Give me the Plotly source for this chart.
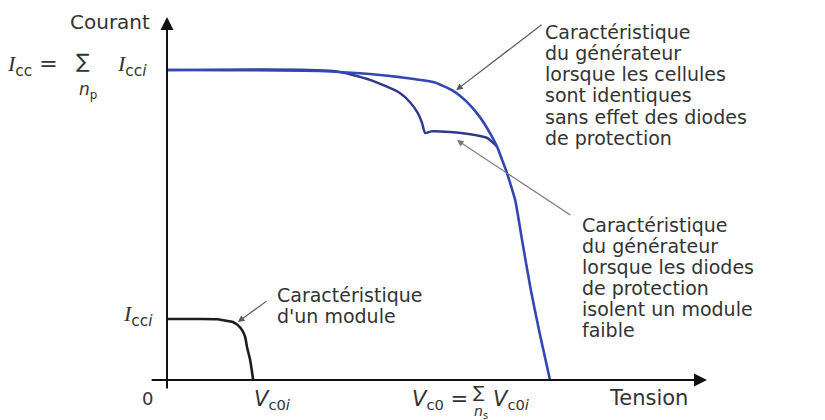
import plotly.graph_objects as go

# ── Colours ──────────────────────────────────────────────────────────────────
AXIS = "#111111"
TEXT = "#333333"
BLUE = "#3346b4"
NAVY = "#2d3a8c"
MODULE = "#1c1c1c"
POINTER = "#5a5a5a"
FONT = "DejaVu Sans, Arial, sans-serif"

# ── Data: tension in units of Vc0, courant in units of Icc ───────────────────
# generator, identical cells (no diode effect)
v_gen = [0, 0.399, 0.530, 0.608, 0.695, 0.744, 0.783, 0.817, 0.843, 0.862,
         0.875, 0.885, 0.896, 0.909, 0.927, 0.950, 0.974, 1.0]
i_gen = [1.0, 0.997, 0.987, 0.977, 0.961, 0.935, 0.897, 0.848, 0.797, 0.752,
         0.710, 0.677, 0.635, 0.581, 0.452, 0.290, 0.145, 0.0]

# generator, protection diodes isolating a weak module
v_diode = [0, 0.433, 0.530, 0.608, 0.634, 0.655, 0.666, 0.674, 0.690, 0.739,
           0.773, 0.809, 0.836, 0.849, 0.862]
i_diode = [1.0, 0.997, 0.968, 0.926, 0.897, 0.861, 0.829, 0.797, 0.802, 0.800,
           0.796, 0.789, 0.781, 0.768, 0.752]

# a single module
v_mod = [0, 0.086, 0.131, 0.151, 0.172, 0.185, 0.196, 0.204, 0.209, 0.217, 0.225]
i_mod = [0.197, 0.197, 0.196, 0.192, 0.187, 0.177, 0.161, 0.139, 0.106, 0.065, 0.0]

I_CCI = 0.197
V_C0I = 0.225

text_identical = ["Caractéristique", "du générateur", "lorsque les cellules",
                  "sont identiques", "sans effet des diodes", "de protection"]
text_diodes = ["Caractéristique", "du générateur", "lorsque les diodes",
               "de protection", "isolent un module", "faible"]
text_module = ["Caractéristique", "d'un module"]

# ── Curves ───────────────────────────────────────────────────────────────────
fig = go.Figure()

fig.add_trace(go.Scatter(
    x=v_diode, y=i_diode, mode="lines",
    line=dict(color=NAVY, width=2.4, shape="spline", smoothing=0.6),
    hoverinfo="skip",
))
fig.add_trace(go.Scatter(
    x=v_gen, y=i_gen, mode="lines",
    line=dict(color=BLUE, width=2.6, shape="spline", smoothing=0.6),
    hoverinfo="skip",
))
fig.add_trace(go.Scatter(
    x=v_mod, y=i_mod, mode="lines",
    line=dict(color=MODULE, width=2.6, shape="spline", smoothing=0.6),
    hoverinfo="skip",
))


def label(text, x, y, xanchor="center", size=18):
    return dict(
        text=text, x=x, y=y, xref="x", yref="y",
        xanchor=xanchor, yanchor="middle",
        showarrow=False, font=dict(family=FONT, size=size, color=TEXT),
    )


def pointer(x, y, ax, ay, color=POINTER, width=1.2, size=1.1):
    return dict(
        x=x, y=y, ax=ax, ay=ay, xref="x", yref="y", axref="x", ayref="y",
        text="", showarrow=True, arrowhead=2, arrowsize=size,
        arrowwidth=width, arrowcolor=color, standoff=0,
    )


def block(lines, x, y_top, step=0.068, size=19):
    # one annotation per line, so the spacing can be tighter than 1.3 em
    return [label(t, x, y_top - k * step, xanchor="left", size=size)
            for k, t in enumerate(lines)]


I_SERIF = '<span style="font-family:Liberation Serif;font-style:italic">I</span>'

annotations = [
    # axes with arrow tips
    pointer(0, 1.171, 0, -0.032, color=AXIS, width=2, size=1.3),
    pointer(1.41, 0, -0.044, 0, color=AXIS, width=2, size=1.3),

    # axis titles
    label("Courant", -0.039, 1.155, xanchor="right", size=20),
    label("Tension", 1.149, -0.058, xanchor="left", size=21),
    label("0", -0.052, -0.061, size=18),

    # current labels
    label(I_SERIF + "<sub>cc</sub> =", -0.279, 1.013, xanchor="right", size=22),
    label("∑", -0.219, 1.028, size=20),
    label("<i>n</i><sub>p</sub>", -0.206, 0.935, size=17),
    label(I_SERIF + "<sub>cc<i>i</i></sub>", -0.136, 1.013, xanchor="left", size=22),
    label(I_SERIF + "<sub>cc<i>i</i></sub>", -0.031, I_CCI + 0.01, xanchor="right", size=22),

    # voltage labels
    label("<i>V</i><sub>c0<i>i</i></sub>", V_C0I + 0.05, -0.065, size=21),
    label("<i>V</i><sub>c0</sub> =", 0.635, -0.065, xanchor="left", size=21),
    label("∑", 0.815, -0.038, size=17),
    label("<i>n</i><sub>s</sub>", 0.820, -0.102, size=14),
    label("<i>V</i><sub>c0<i>i</i></sub>", 0.846, -0.065, xanchor="left", size=21),

    # pointers from texts to curves
    pointer(0.755, 0.935, 0.982, 1.150),
    pointer(0.757, 0.774, 1.057, 0.529, color="#7a7a7a"),
    pointer(0.185, 0.187, 0.264, 0.258),
]

# descriptive texts
annotations += block(text_identical, 0.982, 1.122)
annotations += block(text_diodes, 1.078, 0.500)
annotations += block(text_module, 0.282, 0.274)

# ── Layout ───────────────────────────────────────────────────────────────────
# the page body keeps its 8 px margin, so the figure is 8 px smaller
fig.update_layout(
    width=817,
    height=412,
    paper_bgcolor="white",
    plot_bgcolor="white",
    showlegend=False,
    margin=dict(l=0, r=0, t=0, b=0),
    xaxis=dict(range=[-0.4151, 1.718], visible=False, fixedrange=True),
    yaxis=dict(range=[-0.129, 1.200], visible=False, fixedrange=True),
    annotations=annotations,
)

fig.write_html("out.html", config={"displayModeBar": False})
